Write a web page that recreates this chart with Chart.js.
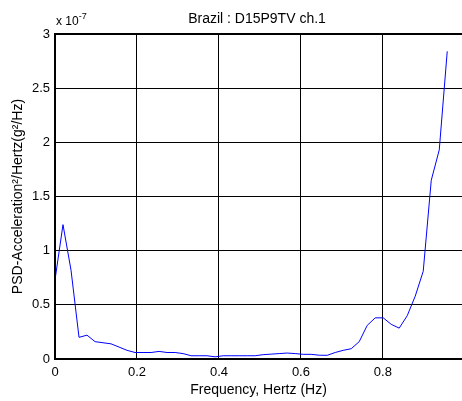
<!DOCTYPE html>
<html>
<head>
<meta charset="utf-8">
<script src="https://cdn.jsdelivr.net/npm/chart.js@4/dist/chart.umd.min.js"></script>
<style>
  html, body { margin: 0; padding: 0; background: #fff; }
  #wrap { width: 462px; height: 401px; }
</style>
</head>
<body>
<div id="wrap"><canvas id="psd"></canvas></div>
<script>
// frequency bins (Hz), step 1/51.2
var freqs = [0.000, 0.0195, 0.0391, 0.0586, 0.0781, 0.0977, 0.1172, 0.1367, 0.1563, 0.1758,
             0.1953, 0.2148, 0.2344, 0.2539, 0.2734, 0.2930, 0.3125, 0.3320, 0.3516, 0.3711,
             0.3906, 0.4102, 0.4297, 0.4492, 0.4688, 0.4883, 0.5078, 0.5273, 0.5469, 0.5664,
             0.5859, 0.6055, 0.6250, 0.6445, 0.6641, 0.6836, 0.7031, 0.7227, 0.7422, 0.7617,
             0.7813, 0.8008, 0.8203, 0.8398, 0.8594, 0.8789, 0.8984, 0.9180, 0.9375, 0.9570];
// PSD values, in units of 1e-7 g²/Hz
var psd = [0.73, 1.24, 0.82, 0.20, 0.22, 0.16, 0.15, 0.14, 0.11, 0.08,
           0.06, 0.06, 0.06, 0.07, 0.06, 0.06, 0.05, 0.03, 0.03, 0.03,
           0.02, 0.03, 0.03, 0.03, 0.03, 0.03, 0.04, 0.045, 0.05, 0.055,
           0.05, 0.043, 0.043, 0.035, 0.034, 0.06, 0.08, 0.095, 0.16, 0.31,
           0.38, 0.38, 0.32, 0.285, 0.40, 0.58, 0.81, 1.65, 1.93, 2.84];
var xTicks = [0, 0.2, 0.4, 0.6, 0.8];
var yTicks = [0, 0.5, 1, 1.5, 2, 2.5, 3];
var titleText = 'Brazil : D15P9TV ch.1';

var fontFam = '"Liberation Sans", Arial, sans-serif';

var framePlugin = {
    id: 'frame',
    afterDraw: function(chart) {
        var ctx = chart.ctx;
        var a = chart.chartArea;
        ctx.save();
        ctx.strokeStyle = '#000';
        ctx.lineWidth = 2;
        ctx.beginPath();
        ctx.moveTo(a.right + 2, a.top);
        ctx.lineTo(a.left, a.top);
        ctx.lineTo(a.left, a.bottom);
        ctx.lineTo(a.right + 2, a.bottom);
        ctx.stroke();
        // title
        ctx.fillStyle = '#000';
        ctx.font = '14px ' + fontFam;
        ctx.textAlign = 'center';
        ctx.textBaseline = 'alphabetic';
        ctx.fillText(titleText, 257, 23);
        // exponent
        ctx.textAlign = 'left';
        ctx.font = '12px ' + fontFam;
        ctx.fillText('x 10', a.left + 1, 25);
        var w = ctx.measureText('x 10').width;
        ctx.font = '9px ' + fontFam;
        ctx.fillText('-7', a.left + 1 + w, 19);
        ctx.restore();
    }
};

var ctx = document.getElementById('psd').getContext('2d');
new Chart(ctx, {
    type: 'line',
    data: {
        datasets: [{
            data: freqs.map(function(f, i) { return { x: f, y: psd[i] }; }),
            borderColor: '#0000ff',
            borderWidth: 1,
            pointRadius: 0,
            tension: 0,
            fill: false
        }]
    },
    options: {
        responsive: true,
        maintainAspectRatio: false,
        animation: false,
        layout: { padding: { top: 34, right: 0, left: 0, bottom: 0 } },
        plugins: {
            legend: { display: false },
            tooltip: { enabled: false }
        },
        scales: {
            x: {
                type: 'linear',
                min: 0,
                max: 0.993,
                afterBuildTicks: function(scale) {
                    scale.ticks = xTicks.map(function(v) { return { value: v }; });
                },
                afterFit: function(scale) { scale.height = 42; },
                grid: { color: '#000', lineWidth: 1, drawTicks: false },
                border: { display: false },
                ticks: {
                    color: '#000',
                    padding: 6,
                    font: { family: fontFam, size: 13 },
                    callback: function(v) { return String(Math.round(v * 10) / 10); }
                },
                title: {
                    display: true,
                    text: 'Frequency, Hertz (Hz)',
                    color: '#000',
                    font: { family: fontFam, size: 14 },
                    padding: { top: 0, bottom: 2 }
                }
            },
            y: {
                min: 0,
                max: 3,
                afterBuildTicks: function(scale) {
                    scale.ticks = yTicks.map(function(v) { return { value: v }; });
                },
                afterFit: function(scale) { scale.width = 55; },
                grid: { color: '#000', lineWidth: 1, drawTicks: false },
                border: { display: false },
                ticks: {
                    color: '#000',
                    padding: 5,
                    font: { family: fontFam, size: 13 },
                    callback: function(v) { return String(v); }
                },
                title: {
                    display: true,
                    text: 'PSD-Acceleration²/Hertz(g²/Hz)',
                    color: '#000',
                    font: { family: fontFam, size: 14 },
                    padding: { top: 10, bottom: 0 }
                }
            }
        }
    },
    plugins: [framePlugin]
});
</script>
</body>
</html>
